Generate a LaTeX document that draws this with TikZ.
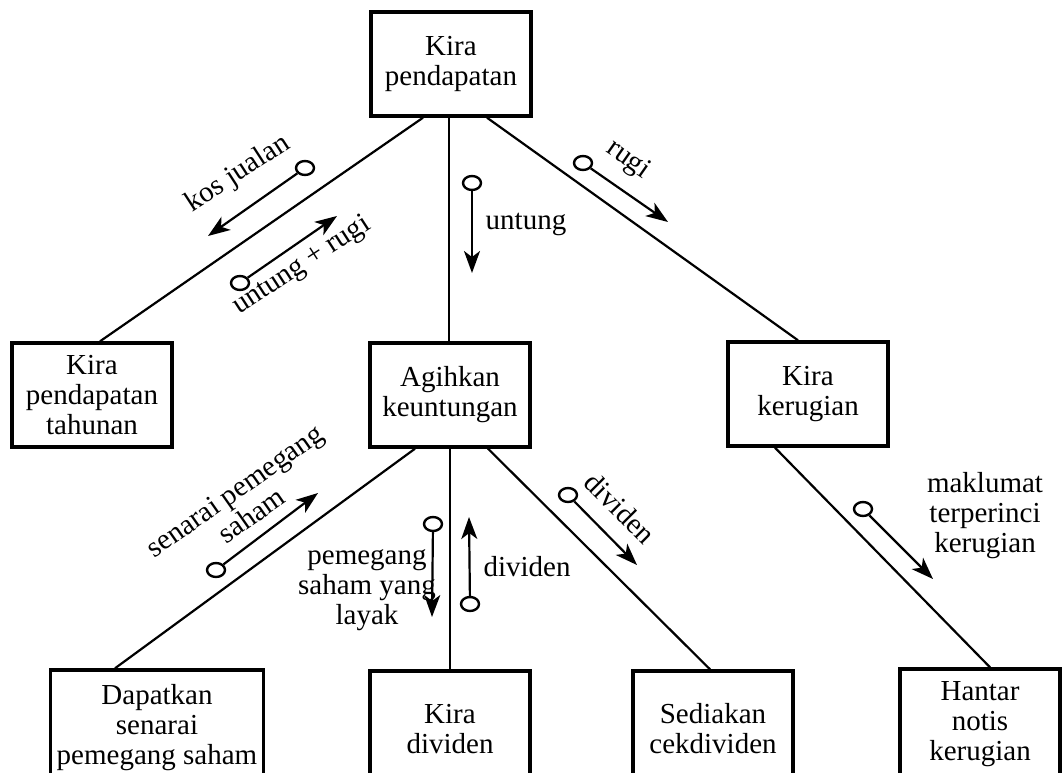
\documentclass[tikz,border=0pt]{standalone}
\usepackage{fontspec}
\setmainfont{Liberation Serif}
\usetikzlibrary{shapes.geometric,arrows.meta}
\begin{document}
\begin{tikzpicture}[x=1pt,y=-1pt,
  box/.style={draw,line width=3.4pt,minimum width=160pt,minimum height=104pt,inner sep=2pt,align=center,font=\fontsize{29}{30}\selectfont},
  conn/.style={line width=2.2pt},
  couple/.style={draw,ellipse,line width=2.4pt,minimum width=18pt,minimum height=14pt,inner sep=0pt},
  flow/.style={line width=2.2pt,-{Stealth[length=22pt,width=16pt,inset=6pt]}},
  lbl/.style={font=\fontsize{29}{30}\selectfont,align=center,inner sep=0pt}]
\useasboundingbox (0,0) rectangle (1062,773);
% modules
\node[box] (top) at (451,64) {Kira\\pendapatan};
\node[box] (tah) at (92,395) {Kira\\pendapatan\\tahunan};
\node[box] (agi) at (450,395) {Agihkan\\keuntungan};
\node[box] (ker) at (808,394) {Kira\\kerugian};
\node[box,minimum width=213pt,minimum height=116pt] (dap) at (157,728) {Dapatkan\\senarai\\pemegang saham};
\node[box,minimum height=116pt] (kd) at (450,729) {Kira\\dividen};
\node[box,minimum height=116pt] (sed) at (713,729) {Sediakan\\cekdividen};
\node[box,minimum height=110pt] (han) at (980,724) {Hantar\\notis\\kerugian};
% connectors
\draw[conn] ([xshift=-28pt]top.south) -- ([xshift=8pt]tah.north);
\draw[conn] ([xshift=-2pt]top.south) -- ([xshift=-1pt]agi.north);
\draw[conn] ([xshift=36pt]top.south) -- ([xshift=-10pt]ker.north);
\draw[conn] ([xshift=-35pt]agi.south) -- ([xshift=-42pt]dap.north);
\draw[conn] (agi.south) -- (kd.north);
\draw[conn] ([xshift=38pt]agi.south) -- ([xshift=-3pt]sed.north);
\draw[conn] ([xshift=-33pt]ker.south) -- ([xshift=10pt]han.north);
% data couples
\node[couple] (ca) at (305,168) {};
\coordinate (ta) at (208,236);
\draw[flow] (ca) -- (ta);
\node[lbl,rotate=33] (la) at (238,174) {kos jualan};

\node[couple] (cb) at (240,283) {};
\coordinate (tb) at (337,216);
\draw[flow] (cb) -- (tb);
\node[lbl,rotate=33] (lb) at (302,266) {untung + rugi};

\node[couple] (cc) at (472,183) {};
\coordinate (tc) at (472,273);
\draw[flow] (cc) -- (tc);
\node[lbl] (lc) at (526,224) {untung};

\node[couple] (cd) at (583,163) {};
\coordinate (td) at (668,222);
\draw[flow] (cd) -- (td);
\node[lbl,rotate=-35] (ld) at (628,160) {rugi};

\node[couple] (ce) at (216,570) {};
\coordinate (te) at (318,493);
\draw[flow] (ce) -- (te);
\node[lbl,rotate=35] (le) at (243,503) {senarai pemegang\\saham};

\node[couple] (cf) at (433,524) {};
\coordinate (tf) at (432,617);
\draw[flow] (cf) -- (tf);
\node[lbl] (lf) at (367,590) {pemegang\\saham yang\\layak};

\node[couple] (cg) at (470,604) {};
\coordinate (tg) at (469,517);
\draw[flow] (cg) -- (tg);
\node[lbl] (lg) at (527,567) {dividen};

\node[couple] (ch) at (568,495) {};
\coordinate (th) at (637,565);
\draw[flow] (ch) -- (th);
\node[lbl,rotate=-45] (lh) at (620,508) {dividen};

\node[couple] (ci) at (863,509) {};
\coordinate (ti) at (933,579);
\draw[flow] (ci) -- (ti);
\node[lbl] (li) at (985,516) {maklumat\\terperinci\\kerugian};
\end{tikzpicture}
\end{document}
